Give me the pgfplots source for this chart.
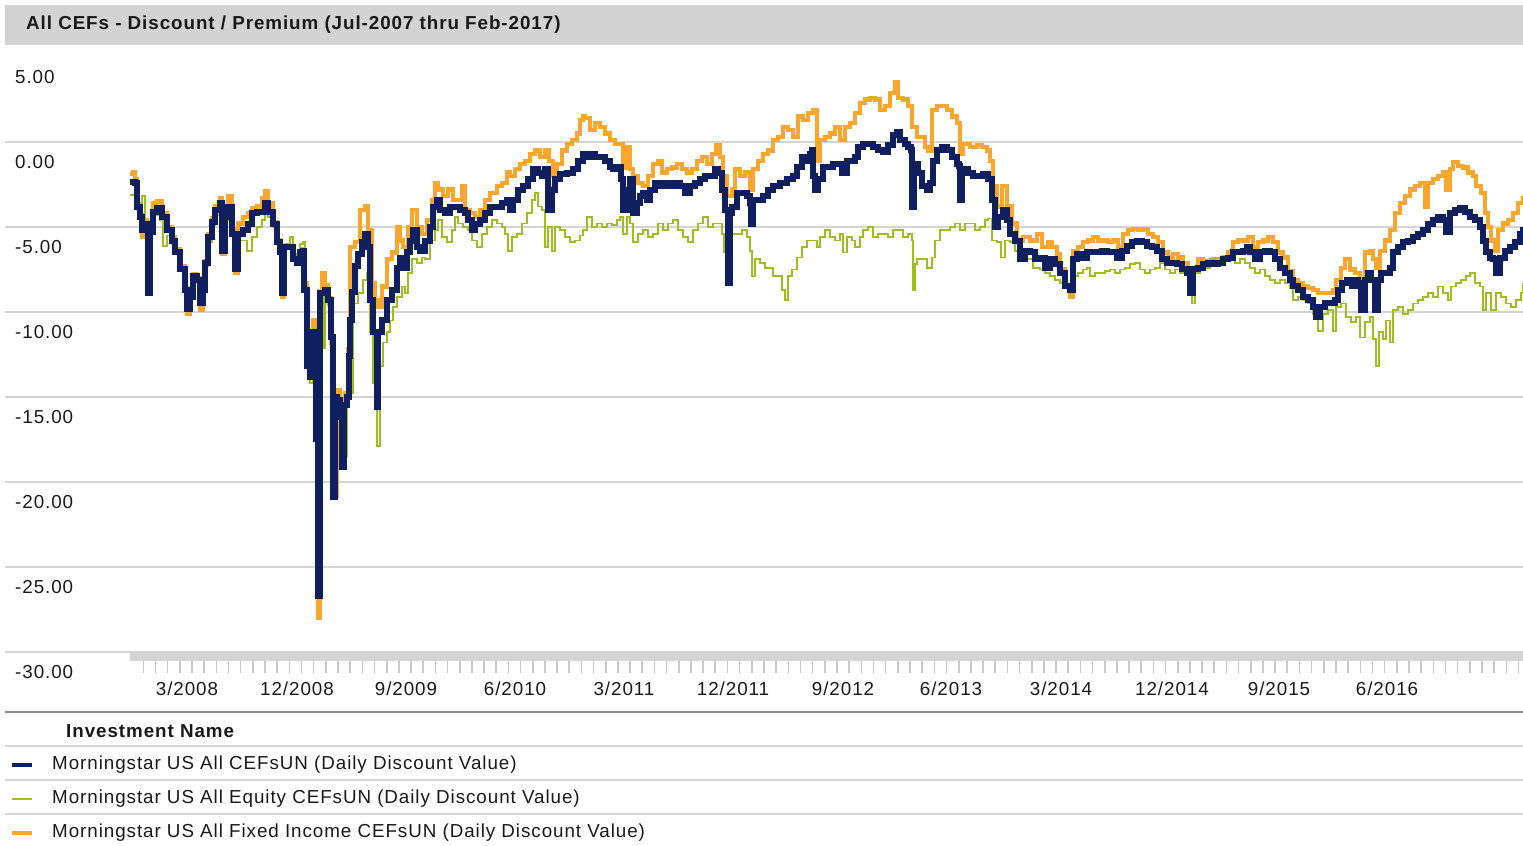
\documentclass[border=0pt]{standalone}
\usepackage{fontspec}
\setmainfont{Liberation Sans}[LetterSpace=5.0]
\usepackage{pgfplots}
\usepackage{pgfplotstable}
\pgfplotsset{compat=1.18}
\definecolor{navy}{RGB}{16,31,95}
\definecolor{orng}{RGB}{250,166,45}
\definecolor{grn}{RGB}{158,190,30}
\definecolor{gridgray}{RGB}{212,212,212}
\definecolor{bargray}{RGB}{211,211,211}
\definecolor{tickgray}{RGB}{200,200,200}
\definecolor{rulegray}{RGB}{140,140,140}
\definecolor{txt}{RGB}{25,25,25}

% x = horizontal position (px of original, month axis Jul-2007 .. Feb-2017), y = discount (%)
\pgfplotstableread{
x y
130 -2.35
135 -2.4
137 -3.8
140 -4.4
142 -5.2
145 -4.8
147 -4.8
148 -8.9
150 -5.3
152 -5.3
153 -4.1
157 -3.9
162 -4.4
167 -5.2
172 -5.8
175 -6.5
180 -7.5
185 -8.7
187 -9.8
190 -9.1
193 -7.9
197 -8.1
200 -9.5
203 -8.7
205 -7.1
208 -5.6
212 -4.7
215 -4.0
220 -3.6
222 -6.4
225 -4.4
228 -3.8
232 -5.4
235 -7.5
238 -5.4
243 -5.2
248 -4.8
252 -4.2
257 -4.1
262 -4.1
265 -3.6
268 -4.1
273 -4.8
277 -5.9
280 -6.5
282 -8.9
284 -6.2
290 -6.2
293 -6.9
297 -7.1
300 -6.5
303 -6.4
304 -8.7
307 -13.2
310 -13.8
313 -11.2
316 -17.5
318 -26.7
320 -8.9
325 -8.7
328 -9.3
331 -11.5
333 -20.9
335 -15.0
337 -15.2
340 -16.2
342 -19.1
344 -15.5
347 -15.0
349 -12.6
350 -10.5
352 -8.8
355 -7.3
358 -6.6
362 -5.9
365 -5.4
368 -6.2
370 -9.3
373 -11.2
377 -15.6
378 -11.2
382 -10.5
387 -9.3
392 -8.7
397 -7.4
400 -6.8
403 -7.4
407 -6.5
410 -5.8
413 -5.2
417 -6.2
420 -6.4
425 -5.8
430 -5.0
433 -3.8
437 -3.4
440 -4.0
445 -4.2
450 -3.8
455 -3.8
460 -4.0
465 -4.2
468 -4.6
472 -5.2
475 -4.8
480 -4.6
485 -4.2
490 -3.8
497 -3.8
502 -3.6
507 -3.4
510 -4.0
513 -3.4
518 -2.8
523 -2.6
528 -2.2
533 -1.6
538 -1.8
542 -2.0
545 -1.6
548 -4.0
552 -2.8
555 -2.2
560 -1.9
567 -1.8
573 -1.6
578 -1.1
583 -0.7
588 -0.9
590 -0.7
595 -0.9
600 -0.9
605 -1.1
610 -1.5
613 -1.6
618 -1.5
621 -2.2
623 -4.0
627 -2.8
630 -2.2
633 -4.2
637 -3.6
640 -3.2
643 -3.0
647 -3.4
650 -2.8
655 -2.4
660 -2.6
665 -2.4
670 -2.6
675 -2.4
680 -2.6
685 -3.0
690 -2.6
695 -2.4
700 -2.2
705 -2.0
710 -2.0
715 -1.6
718 -1.8
722 -2.8
725 -4.0
728 -8.3
730 -4.2
732 -3.8
737 -3.0
742 -3.0
747 -3.2
750 -3.6
751 -4.8
753 -3.4
758 -3.4
763 -3.2
768 -2.8
773 -2.6
780 -2.4
787 -2.2
793 -2.0
797 -1.5
802 -0.9
807 -1.1
810 -0.7
812 -0.5
813 -2.0
815 -2.8
818 -2.2
823 -1.5
828 -1.5
833 -1.3
838 -1.3
842 -1.8
847 -1.1
852 -1.1
855 -0.9
858 -0.3
863 -0.1
868 -0.1
873 -0.3
878 -0.5
883 -0.6
888 -0.2
893 0.4
897 0.6
900 0.1
905 -0.1
908 -0.3
911 -0.5
912 -3.8
914 -1.3
918 -1.8
922 -2.6
927 -2.8
930 -2.4
933 -1.1
937 -0.5
942 -0.3
947 -0.5
952 -0.9
957 -1.3
959 -1.4
960 -3.4
962 -1.6
968 -1.8
973 -2.0
978 -2.0
983 -1.9
988 -2.2
992 -3.4
995 -5.0
998 -4.4
1003 -4.0
1007 -4.6
1010 -5.4
1015 -5.8
1020 -6.9
1025 -6.4
1030 -6.5
1035 -6.9
1040 -6.8
1045 -7.4
1050 -6.9
1055 -7.2
1060 -7.7
1065 -8.5
1070 -8.7
1073 -6.9
1077 -6.6
1082 -6.8
1087 -6.5
1092 -6.5
1097 -6.5
1102 -6.4
1107 -6.5
1112 -6.5
1117 -6.8
1122 -6.4
1127 -6.1
1132 -5.9
1137 -5.8
1142 -5.9
1147 -6.1
1152 -6.2
1157 -6.4
1162 -6.9
1167 -7.1
1172 -7.1
1177 -7.2
1182 -7.5
1187 -7.7
1190 -8.9
1193 -7.5
1198 -7.4
1203 -7.2
1208 -7.1
1213 -7.2
1218 -7.1
1223 -6.9
1228 -6.8
1233 -6.5
1238 -6.5
1243 -6.4
1247 -6.2
1250 -6.5
1255 -6.9
1260 -6.5
1265 -6.4
1270 -6.5
1275 -6.9
1280 -7.4
1285 -7.7
1290 -8.1
1293 -8.5
1298 -8.7
1303 -9.1
1308 -9.3
1313 -9.7
1316 -10.3
1320 -9.7
1325 -9.5
1330 -9.5
1335 -9.3
1338 -8.7
1342 -8.3
1347 -8.1
1352 -8.5
1355 -8.1
1358 -8.3
1361 -9.9
1365 -8.1
1368 -7.7
1371 -8.1
1375 -9.9
1378 -8.1
1381 -7.7
1386 -7.7
1390 -7.4
1393 -6.5
1398 -6.2
1403 -5.9
1408 -5.8
1413 -5.6
1418 -5.4
1423 -5.2
1428 -4.8
1433 -4.6
1438 -4.4
1443 -4.6
1446 -5.3
1450 -4.2
1455 -4.0
1460 -3.9
1465 -4.1
1470 -4.4
1475 -4.6
1480 -5.0
1483 -5.8
1486 -6.5
1490 -6.8
1493 -6.9
1496 -7.7
1500 -6.8
1505 -6.4
1510 -6.2
1515 -5.9
1520 -5.4
1523 -5.0
}\allcef

\pgfplotstableread{
x y
130 -1.9
133 -1.8
135 -2.2
137 -3.9
140 -4.3
142 -5.6
145 -4.6
147 -4.7
148 -8.8
150 -5.1
153 -3.6
157 -3.5
162 -4.2
167 -5.0
172 -5.6
175 -6.3
180 -7.3
185 -8.6
187 -10.1
190 -9.0
193 -7.8
197 -8.0
200 -9.9
203 -8.6
205 -7.0
208 -5.4
212 -4.5
215 -3.8
220 -3.3
222 -6.6
225 -4.0
228 -3.2
232 -5.2
235 -7.7
238 -4.8
243 -4.4
248 -4.2
252 -3.9
257 -3.8
262 -3.3
265 -2.9
268 -3.6
273 -4.7
277 -5.8
280 -6.4
282 -9.1
284 -6.1
290 -6.1
293 -6.8
297 -7.1
300 -6.4
303 -6.3
304 -8.3
307 -12.6
310 -13.5
313 -10.5
316 -17.0
318 -28.0
320 -8.8
322 -7.7
325 -8.4
328 -9.2
331 -11.8
333 -20.8
337 -14.6
340 -15.5
342 -19.2
345 -14.8
348 -12.2
350 -6.2
355 -5.9
360 -4.0
365 -3.8
368 -5.2
372 -8.3
375 -9.3
378 -9.7
382 -8.5
387 -6.9
392 -6.5
397 -5.0
400 -5.8
403 -6.2
408 -5.0
412 -4.0
417 -5.0
422 -5.4
427 -4.6
432 -3.4
435 -2.4
438 -2.8
443 -3.2
448 -2.8
453 -3.4
457 -3.4
462 -2.6
465 -4.0
470 -4.2
475 -4.4
480 -4.0
485 -3.4
490 -3.0
497 -2.6
502 -2.4
507 -1.8
510 -2.0
515 -1.6
520 -1.3
525 -1.1
530 -0.7
535 -0.5
540 -0.9
545 -0.5
549 -1.1
553 -2.0
557 -1.3
562 -0.5
567 -0.1
572 0.1
577 0.5
580 1.3
583 1.5
585 1.4
590 0.7
595 1.1
600 0.9
605 0.5
610 0.1
615 -0.1
620 -0.1
623 -1.5
627 -0.3
630 -1.6
633 -2.0
638 -2.4
643 -2.6
648 -2.0
653 -1.3
658 -1.1
662 -1.8
667 -1.6
672 -1.5
677 -1.3
682 -1.6
687 -1.8
692 -1.6
697 -1.1
702 -0.9
707 -1.3
712 -0.7
716 -0.2
720 -0.9
723 -2.0
727 -3.2
732 -2.8
735 -1.6
740 -2.0
745 -1.8
750 -2.8
753 -1.6
758 -1.1
763 -0.7
768 -0.5
773 0.1
778 0.3
783 0.9
788 0.7
793 0.3
798 1.5
803 1.3
808 1.7
813 1.9
817 -1.1
820 0.1
825 0.3
830 0.5
835 0.9
840 0.1
845 0.9
850 1.1
855 1.7
860 2.3
865 2.5
870 2.6
875 2.5
880 1.9
885 2.1
890 2.9
895 3.5
898 2.6
903 2.5
908 2.1
912 0.9
917 0.3
922 0.3
925 -0.3
928 -0.5
932 1.9
937 2.1
942 2.1
947 1.9
952 1.5
957 1.1
960 -0.7
963 -0.1
970 -0.3
977 -0.2
982 -0.3
987 -0.5
990 -1.1
993 -2.6
997 -3.8
1002 -2.6
1007 -3.8
1012 -4.8
1017 -5.8
1023 -5.6
1030 -5.8
1037 -5.4
1042 -6.2
1048 -5.9
1052 -6.2
1057 -6.6
1060 -7.5
1065 -8.5
1070 -9.1
1073 -6.4
1078 -6.2
1083 -5.9
1088 -5.8
1093 -5.6
1098 -5.8
1103 -5.8
1108 -5.9
1113 -5.8
1118 -6.2
1123 -5.4
1128 -5.2
1133 -5.1
1138 -5.2
1143 -5.1
1148 -5.4
1153 -5.6
1158 -5.9
1163 -6.5
1168 -6.8
1173 -6.6
1178 -6.8
1183 -7.1
1188 -7.4
1193 -7.4
1198 -6.9
1203 -7.0
1208 -7.0
1213 -6.9
1218 -6.9
1223 -6.8
1228 -6.5
1233 -5.9
1238 -5.8
1243 -5.8
1248 -5.6
1253 -6.2
1258 -5.9
1263 -5.8
1268 -5.6
1273 -5.9
1278 -6.5
1283 -6.8
1288 -7.6
1293 -8.1
1298 -8.3
1303 -8.5
1308 -8.6
1313 -8.7
1318 -8.9
1323 -8.9
1328 -8.9
1333 -8.7
1336 -8.1
1341 -7.4
1345 -6.9
1350 -7.5
1355 -7.7
1360 -8.1
1365 -6.5
1370 -6.4
1373 -6.9
1376 -7.4
1380 -6.4
1385 -5.8
1390 -5.2
1395 -4.2
1400 -3.6
1405 -3.2
1410 -2.8
1415 -2.6
1420 -2.4
1425 -3.8
1428 -2.4
1433 -2.2
1438 -2.0
1443 -1.8
1446 -2.8
1450 -1.6
1453 -1.2
1458 -1.4
1463 -1.5
1468 -1.8
1473 -2.0
1476 -2.6
1481 -3.0
1485 -4.2
1488 -5.0
1491 -5.8
1495 -6.4
1498 -5.2
1503 -4.8
1508 -4.6
1513 -4.2
1518 -3.6
1523 -3.2
}\fixedinc

\pgfplotstableread{
x y
130 -3.1
135 -2.6
137 -3.6
140 -4.6
142 -3.2
145 -5.0
147 -5.0
148 -8.8
150 -5.4
152 -5.4
155 -4.3
160 -4.6
163 -6.1
167 -5.5
172 -6.0
175 -6.6
180 -7.4
185 -8.5
187 -9.4
190 -9.0
193 -8.0
197 -8.2
200 -9.2
205 -7.3
208 -5.9
212 -4.9
215 -4.3
220 -3.8
222 -6.0
225 -4.6
228 -4.2
232 -5.4
235 -6.8
240 -5.8
247 -6.4
252 -5.6
257 -5.0
262 -4.6
265 -4.2
268 -4.4
273 -5.0
277 -5.8
280 -6.3
282 -8.6
285 -6.0
290 -5.6
293 -6.6
297 -6.8
300 -6.0
303 -5.9
305 -8.5
307 -12.8
310 -14.2
313 -11.0
316 -16.8
318 -26.0
320 -9.0
323 -12.1
325 -8.9
328 -9.6
331 -12.0
333 -20.0
337 -15.0
340 -16.0
342 -18.5
347 -15.0
350 -14.8
353 -9.5
358 -8.9
363 -8.1
367 -7.7
370 -11.2
373 -14.2
377 -17.9
380 -13.2
383 -11.8
387 -11.2
390 -10.5
393 -9.7
397 -9.1
402 -8.5
405 -8.9
408 -7.7
412 -6.9
417 -7.1
422 -6.8
425 -6.9
430 -5.8
435 -5.2
438 -4.6
442 -5.6
447 -5.9
452 -5.2
455 -4.4
458 -4.8
463 -5.0
468 -5.2
472 -5.8
477 -6.2
482 -5.4
487 -5.0
492 -4.6
497 -4.8
502 -5.0
505 -5.4
508 -6.4
512 -5.6
517 -5.4
522 -4.8
527 -4.2
532 -3.4
535 -3.0
538 -3.8
542 -4.0
545 -6.2
548 -5.0
552 -6.4
555 -5.0
560 -5.2
565 -5.6
570 -5.9
575 -5.8
580 -5.5
583 -5.2
587 -4.4
592 -5.0
597 -4.8
602 -5.0
607 -4.8
612 -4.9
617 -4.6
620 -4.4
623 -5.4
627 -4.4
630 -4.8
633 -5.9
638 -5.4
643 -5.2
648 -5.6
653 -5.4
658 -4.8
663 -5.2
668 -4.8
673 -4.6
678 -5.2
683 -5.6
688 -5.9
693 -5.2
698 -4.8
703 -4.4
708 -5.0
713 -4.8
718 -4.8
722 -5.4
724 -6.5
727 -5.6
732 -5.4
737 -5.4
742 -5.2
747 -5.6
750 -6.4
752 -7.9
755 -6.9
760 -7.1
765 -7.4
770 -7.4
773 -7.9
778 -7.9
782 -8.7
785 -9.3
788 -7.9
792 -7.5
797 -6.8
802 -6.2
807 -5.8
812 -5.8
817 -6.2
820 -5.6
825 -5.2
830 -5.6
835 -5.8
840 -5.4
843 -6.5
847 -5.6
852 -5.8
855 -6.2
860 -5.6
863 -5.2
868 -5.0
873 -5.6
878 -5.4
883 -5.4
888 -5.6
893 -5.2
898 -5.2
903 -5.6
908 -5.4
912 -5.8
913 -8.7
915 -7.2
917 -6.9
922 -6.9
927 -7.4
932 -6.8
935 -5.8
940 -5.2
945 -5.2
950 -5.0
955 -4.8
960 -5.2
965 -4.8
970 -4.8
975 -5.2
980 -5.0
985 -4.6
988 -4.5
992 -5.8
997 -5.9
1001 -6.8
1005 -5.8
1010 -5.9
1015 -6.4
1020 -6.8
1027 -6.9
1033 -7.4
1040 -7.5
1045 -7.7
1050 -7.9
1055 -8.1
1060 -8.3
1065 -8.5
1070 -8.9
1073 -7.9
1078 -7.7
1083 -7.5
1087 -7.4
1090 -7.9
1095 -7.7
1100 -7.7
1105 -7.6
1110 -7.5
1115 -7.7
1120 -7.5
1125 -7.4
1130 -7.2
1135 -7.1
1140 -7.5
1145 -7.7
1150 -7.5
1155 -7.4
1160 -7.1
1165 -7.5
1170 -7.7
1175 -7.5
1180 -7.7
1185 -7.7
1190 -7.9
1192 -9.5
1195 -7.7
1200 -7.5
1205 -7.4
1210 -6.9
1215 -6.8
1220 -7.1
1225 -6.9
1230 -6.9
1235 -7.1
1240 -6.9
1245 -7.1
1250 -7.4
1255 -7.7
1260 -7.5
1265 -7.9
1270 -8.1
1275 -8.3
1280 -8.1
1285 -8.3
1290 -8.6
1293 -9.3
1298 -9.1
1303 -9.3
1308 -9.5
1313 -10.1
1318 -11.1
1323 -10.1
1328 -9.9
1333 -11.1
1336 -9.7
1341 -9.5
1346 -10.3
1351 -10.6
1356 -10.3
1360 -11.5
1365 -10.6
1370 -10.3
1373 -11.6
1376 -13.2
1379 -11.2
1383 -11.6
1386 -10.5
1390 -11.8
1393 -9.9
1398 -9.7
1403 -10.1
1408 -9.9
1413 -9.5
1418 -9.3
1423 -9.1
1428 -8.9
1433 -9.1
1438 -8.5
1443 -8.9
1448 -9.3
1451 -8.5
1456 -8.3
1461 -8.1
1466 -7.9
1470 -7.7
1475 -8.3
1480 -8.5
1483 -9.9
1486 -8.9
1491 -9.9
1496 -8.9
1501 -9.1
1506 -9.5
1511 -9.7
1516 -9.3
1521 -8.9
1523 -8.3
}\equity

\begin{document}
\begin{tikzpicture}[font=\fontsize{18.8bp}{22bp}\selectfont, text=txt]
\path[use as bounding box] (0,0) rectangle (1523bp,846bp);
% title bar
\fill[bargray] (5bp,801bp) rectangle (1523bp,841bp);
\node[anchor=west, inner sep=0pt, font=\fontsize{18.8bp}{22bp}\selectfont\bfseries] at (26bp,821bp) {All CEFs - Discount / Premium (Jul-2007 thru Feb-2017)};

\begin{axis}[
  at={(5bp,194bp)}, anchor=south west,
  scale only axis, width=1518bp, height=595bp,
  xmin=5, xmax=1523, ymin=-30, ymax=5,
  axis line style={draw=none},
  major tick length=0pt,
  ytick={-30,-25,...,0},
  extra y ticks={5},
  extra y tick style={grid=none},
  ymajorgrids,
  major grid style={line width=1.6bp, gridgray},
  xtick={187,297,406,515,624,733,843,951,1061,1172,1279,1387},
  xticklabels={3/2008,12/2008,9/2009,6/2010,3/2011,12/2011,9/2012,6/2013,3/2014,12/2014,9/2015,6/2016},
  /pgf/number format/assume math mode=true,
  y tick label style={anchor=west, inner sep=0pt, xshift=10bp, yshift=-20bp,
    /pgf/number format/fixed, /pgf/number format/fixed zerofill, /pgf/number format/precision=2},
  x tick label style={anchor=center, inner sep=0pt, yshift=-37bp},
  tick label style={font=\fontsize{18.8bp}{22bp}\selectfont, text=txt},
]
\addplot[orng, line width=4.2bp, const plot, line join=miter] table[x=x,y=y] {\fixedinc};
\addplot[grn, line width=1.8bp, const plot, line join=miter] table[x=x,y=y] {\equity};
\addplot[navy, line width=6bp, const plot, line join=miter] table[x=x,y=y] {\allcef};
\end{axis}

% x-axis band and monthly ticks
\fill[bargray] (130bp,185bp) rectangle (1523bp,194bp);
\foreach \k in {0,...,113} {
  \draw[tickgray, line width=1.6bp] ({143.3bp+12.17bp*\k},173bp) -- ++(0,12bp);
}

% legend table
\draw[rulegray, line width=2bp] (5bp,134bp) -- (1523bp,134bp);
\node[anchor=west, inner sep=0pt, font=\fontsize{18.8bp}{22bp}\selectfont\bfseries] at (66bp,115bp) {Investment Name};
\foreach \yy in {100,66,32} {
  \draw[gridgray, line width=1.5bp] (5bp,\yy bp) -- (1523bp,\yy bp);
}
\draw[navy, line width=4bp] (12bp,81bp) -- (32bp,81bp);
\node[anchor=west, inner sep=0pt] at (52bp,81bp) {Morningstar US All CEFsUN (Daily Discount Value)};
\draw[grn, line width=2bp] (12bp,47bp) -- (32bp,47bp);
\node[anchor=west, inner sep=0pt] at (52bp,47bp) {Morningstar US All Equity CEFsUN (Daily Discount Value)};
\draw[orng, line width=4bp] (12bp,13bp) -- (32bp,13bp);
\node[anchor=west, inner sep=0pt] at (52bp,13bp) {Morningstar US All Fixed Income CEFsUN (Daily Discount Value)};
\end{tikzpicture}
\end{document}
